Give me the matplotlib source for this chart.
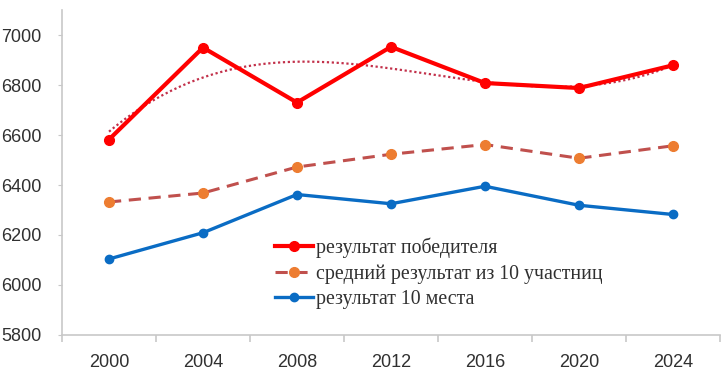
import matplotlib
matplotlib.use('Agg')
import matplotlib.pyplot as plt
import numpy as np

# Data
years = ['2000', '2004', '2008', '2012', '2016', '2020', '2024']
winner = [6582, 6950, 6730, 6953, 6808, 6788, 6879]
top10_mean = [6332, 6368, 6472, 6523, 6562, 6507, 6557]
tenth_place = [6104, 6209, 6362, 6325, 6395, 6319, 6282]

labels = ['результат победителя',
          'средний результат из 10 участниц',
          'результат 10 места']

x = np.arange(len(years))

fig = plt.figure(figsize=(7.21, 3.73), dpi=100)
ax = fig.add_axes([0.086, 0.102, 0.9125, 0.871])

l1, = ax.plot(x, winner, color='#ff0000', lw=3.0, marker='o', ms=7, zorder=4)
l2, = ax.plot(x, top10_mean, color='#c0504d', lw=2.2, ls=(0, (4, 2.5)),
              marker='o', ms=7, mfc='#ed7d31', mec='#ed7d31', zorder=3)
l3, = ax.plot(x, tenth_place, color='#0a6cc4', lw=2.4, marker='o', ms=6, zorder=3)

# polynomial trendline of the winner series (order 3)
coef = np.polyfit(x, winner, 3)
xs = np.linspace(x[0], x[-1], 200)
ax.plot(xs, np.polyval(coef, xs), color='#c2304a', lw=1.6, ls=(0, (1, 1.2)), zorder=2)

ax.set_xlim(-0.5, len(years) - 0.5)
ax.set_ylim(5800, 7100)
ax.set_yticks(np.arange(5800, 7001, 200))
ax.set_xticks(x)
ax.set_xticklabels(years)
ax.set_xticks(np.arange(-0.5, len(years), 1), minor=True)

for s in ['top', 'right']:
    ax.spines[s].set_visible(False)
for s in ['left', 'bottom']:
    ax.spines[s].set_color('#c8c8c8')
    ax.spines[s].set_linewidth(1.2)

ax.tick_params(axis='x', which='major', length=0, pad=14,
               labelsize=13, labelcolor='#303030')
ax.tick_params(axis='x', which='minor', length=5, color='#c8c8c8', width=1.2)
ax.tick_params(axis='y', length=3, color='#c8c8c8', pad=11.5,
               labelsize=13, labelcolor='#303030')
for t in ax.get_xticklabels() + ax.get_yticklabels():
    t.set_fontfamily('Liberation Sans')

ax.legend([l1, l2, l3], labels, loc='upper left',
          bbox_to_anchor=(275 / 721, 1 - 237 / 373), bbox_transform=fig.transFigure,
          frameon=False, handlelength=1.9, handletextpad=0.15, labelspacing=0.33,
          borderpad=0, borderaxespad=0,
          prop={'family': 'Liberation Serif', 'size': 14.3}, labelcolor='#303030')

plt.savefig('out.png', dpi=100)
